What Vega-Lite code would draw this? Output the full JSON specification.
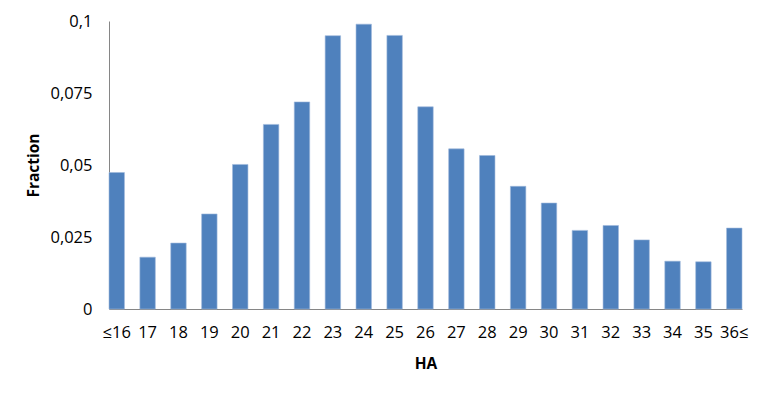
{
  "$schema": "https://vega.github.io/schema/vega-lite/v6.json",
  "autosize": "none",
  "width": 633,
  "height": 288,
  "padding": {"left": 109, "top": 21, "right": 26, "bottom": 86},
  "background": "white",
  "data": {"values": [
    {"HA": "≤16", "Fraction": 0.0474},
    {"HA": "17", "Fraction": 0.0180},
    {"HA": "18", "Fraction": 0.0229},
    {"HA": "19", "Fraction": 0.0330},
    {"HA": "20", "Fraction": 0.0502},
    {"HA": "21", "Fraction": 0.0641},
    {"HA": "22", "Fraction": 0.0719},
    {"HA": "23", "Fraction": 0.0949},
    {"HA": "24", "Fraction": 0.0989},
    {"HA": "25", "Fraction": 0.0950},
    {"HA": "26", "Fraction": 0.0702},
    {"HA": "27", "Fraction": 0.0556},
    {"HA": "28", "Fraction": 0.0533},
    {"HA": "29", "Fraction": 0.0426},
    {"HA": "30", "Fraction": 0.0368},
    {"HA": "31", "Fraction": 0.0273},
    {"HA": "32", "Fraction": 0.0290},
    {"HA": "33", "Fraction": 0.0240},
    {"HA": "34", "Fraction": 0.0166},
    {"HA": "35", "Fraction": 0.0164},
    {"HA": "36≤", "Fraction": 0.0281}
  ]},
  "mark": {"type": "bar", "color": "#4F81BD", "stroke": "#9FB8DC", "strokeWidth": 0.6},
  "encoding": {
    "x": {
      "field": "HA", "type": "ordinal", "sort": null,
      "scale": {"paddingInner": 0.5, "paddingOuter": 0},
      "axis": {
        "title": "HA", "labelAngle": 0, "ticks": false,
        "domainColor": "#868686", "labelPadding": 15,
        "labelFontSize": 16.5, "labelColor": "#000000", "labelFont": "Open Sans",
        "titleFont": "Open Sans", "titleFontSize": 15.5, "titleFontWeight": "bold",
        "titleColor": "#000000", "titlePadding": 16
      }
    },
    "y": {
      "field": "Fraction", "type": "quantitative",
      "scale": {"domain": [0, 0.1], "nice": false},
      "axis": {
        "title": "Fraction", "values": [0, 0.025, 0.05, 0.075, 0.1],
        "format": ".3~f", "grid": false, "ticks": false,
        "domainColor": "#868686", "labelPadding": 17,
        "labelFontSize": 16.5, "labelColor": "#000000", "labelFont": "Open Sans",
        "titleFont": "Open Sans", "titleFontSize": 15.5, "titleFontWeight": "bold",
        "titleColor": "#000000", "titlePadding": 8
      }
    }
  },
  "config": {
    "view": {"stroke": null},
    "locale": {"number": {"decimal": ",", "thousands": ".", "grouping": [3], "currency": ["", " €"]}}
  }
}
